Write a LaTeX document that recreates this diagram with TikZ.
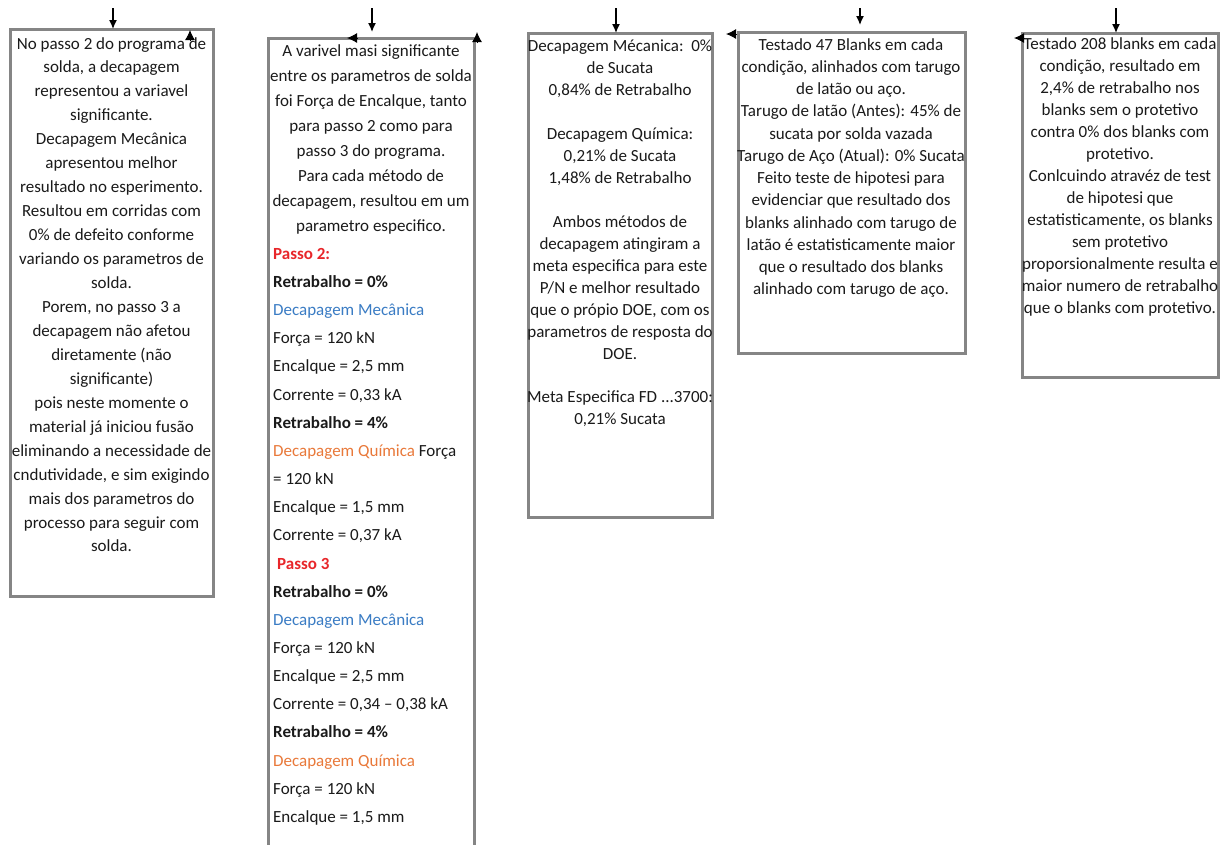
\documentclass[tikz,border=0pt]{standalone}
\usepackage{fontspec}
\setmainfont{Carlito}
\usetikzlibrary{arrows.meta}
\definecolor{ink}{HTML}{1A1A1A}
\definecolor{framegray}{HTML}{858585}
\definecolor{stepred}{HTML}{E8262A}
\definecolor{mechblue}{HTML}{3A7CC4}
\definecolor{chemorange}{HTML}{E9793A}
\begin{document}
\begin{tikzpicture}[x=1pt,y=-1pt,
  panel/.style={draw=framegray,line width=3pt,fill=white,inner sep=0pt,outer sep=0pt,anchor=north west},
  body/.style={text=ink,inner sep=0pt,anchor=north,align=center},
  feed/.style={draw=black,line width=1.4pt,-{Latex[length=9pt,width=8pt]}},
  stub/.style={draw=black,line width=1pt,-{Latex[length=10pt,width=10pt]}}]
\useasboundingbox (0,0) rectangle (1229,844);
\clip (0,0) rectangle (1229,844);

% frames
\node[panel,minimum width=203,minimum height=567] (b1) at (10,29) {};
\node[panel,minimum width=206,minimum height=830] (b2) at (268,38) {};
\node[panel,minimum width=184,minimum height=484] (b3) at (528,33) {};
\node[panel,minimum width=227,minimum height=321] (b4) at (738,32) {};
\node[panel,minimum width=196,minimum height=344] (b5) at (1022,33) {};

% incoming arrows
\coordinate (a1) at (113,8);
\coordinate (a2) at (372,8);
\coordinate (a3) at (616,8);
\coordinate (a4) at (860,8);
\coordinate (a5) at (1116,8);
\draw[feed] (a1) -- (a1 |- b1.north);
\draw[feed,shorten >=6pt] (a2) -- (a2 |- b2.north);
\draw[feed] (a3) -- (a3 |- b3.north);
\draw[feed,shorten >=7pt] (a4) -- (a4 |- b4.north);
\draw[feed] (a5) -- (a5 |- b5.north);

% loose arrow ends on the frames
\coordinate (s1a) at (190,41);  \coordinate (s1b) at (190,30);
\coordinate (s2a) at (358,38);  \coordinate (s2b) at (347,38);
\coordinate (s3a) at (477,43);  \coordinate (s3b) at (477,32);
\coordinate (s4a) at (737,34);  \coordinate (s4b) at (726,34);
\coordinate (s5a) at (1025,38); \coordinate (s5b) at (1014,38);
\draw[stub] (s1a) -- (s1b);
\draw[stub] (s2a) -- (s2b);
\draw[stub] (s3a) -- (s3b);
\draw[stub] (s4a) -- (s4b);
\draw[stub] (s5a) -- (s5b);

% texts
\node[body,font=\fontsize{17}{23.95}\selectfont] (t1) at (111.5,37) {%
No passo 2 do programa de\\ solda, a decapagem\\ representou a variavel\\ significante.\\
Decapagem Mecânica\\ apresentou melhor\\ resultado no esperimento.\\ Resultou em corridas com\\
0\% de defeito conforme\\ variando os parametros de\\ solda.\\ Porem, no passo 3 a\\
decapagem não afetou\\ diretamente (não\\ significante)\\ pois neste momente o\\
material já iniciou fusão\\ eliminando a necessidade de\\ cndutividade, e sim exigindo\\
mais dos parametros do\\ processo para seguir com\\ solda.};

\node[body,font=\fontsize{17}{25}\selectfont] (t2) at (371,44) {%
A varivel masi significante\\ entre os parametros de solda\\ foi Força de Encalque, tanto\\
para passo 2 como para\\ passo 3 do programa.\\ Para cada método de\\
decapagem, resultou em um\\ parametro especifico.};

\node[body,anchor=north west,align=left,font=\fontsize{17}{28.15}\selectfont] (t2b) at (273,248) {%
\textcolor{stepred}{\textbf{Passo 2:}}\\
\textbf{Retrabalho = 0\%}\\
\textcolor{mechblue}{Decapagem Mecânica}\\
Força = 120 kN\\
Encalque = 2,5 mm\\
Corrente = 0,33 kA\\
\textbf{Retrabalho = 4\%}\\
\textcolor{chemorange}{Decapagem Química} Força\\
= 120 kN\\
Encalque = 1,5 mm\\
Corrente = 0,37 kA\\
\hspace*{4pt}\textcolor{stepred}{\textbf{Passo 3}}\\
\textbf{Retrabalho = 0\%}\\
\textcolor{mechblue}{Decapagem Mecânica}\\
Força = 120 kN\\
Encalque = 2,5 mm\\
Corrente = 0,34 – 0,38 kA\\
\textbf{Retrabalho = 4\%}\\
\textcolor{chemorange}{Decapagem Química}\\
Força = 120 kN\\
Encalque = 1,5 mm};

\node[body,font=\fontsize{17}{21.94}\selectfont] (t3) at (620,40) {%
Decapagem Mécanica:\ \ 0\%\\ de Sucata\\ 0,84\% de Retrabalho\\[21.94pt]
Decapagem Química:\\ 0,21\% de Sucata\\ 1,48\% de Retrabalho\\[21.94pt]
Ambos métodos de\\ decapagem atingiram a\\ meta especifica para este\\
P/N e melhor resultado\\ que o própio DOE, com os\\ parametros de resposta do\\ DOE.\\[21.94pt]
Meta Especifica FD ...3700:\\ 0,21\% Sucata};

\node[body,font=\fontsize{17}{22.27}\selectfont] (t4) at (851,38) {%
Testado 47 Blanks em cada\\ condição, alinhados com tarugo\\ de latão ou aço.\\
Tarugo de latão (Antes): 45\% de\\ sucata por solda vazada\\ Tarugo de Aço (Atual): 0\% Sucata\\
Feito teste de hipotesi para\\ evidenciar que resultado dos\\ blanks alinhado com tarugo de\\
latão é estatisticamente maior\\ que o resultado dos blanks\\ alinhado com tarugo de aço.};

\node[body,font=\fontsize{17}{22.08}\selectfont] (t5) at (1120,37) {%
Testado 208 blanks em cada\\ condição, resultado em\\ 2,4\% de retrabalho nos\\
blanks sem o protetivo\\ contra 0\% dos blanks com\\ protetivo.\\
Conlcuindo atravéz de test\\ de hipotesi que\\ estatisticamente, os blanks\\
sem protetivo\\ proporsionalmente resulta e\\ maior numero de retrabalho\\
que o blanks com protetivo.};
\end{tikzpicture}
\end{document}
